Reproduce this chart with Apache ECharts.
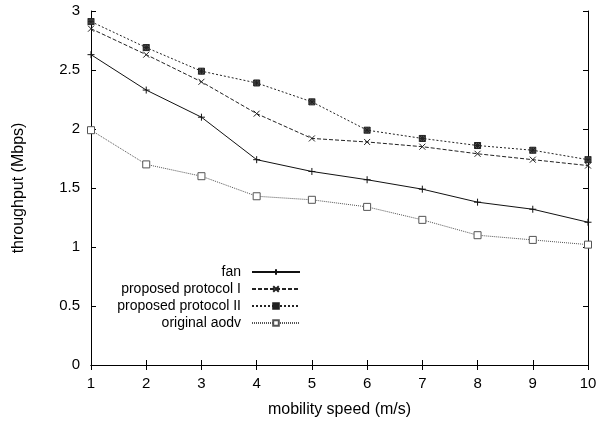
<!DOCTYPE html>
<html style="height: 100%">
<head>
  <meta charset="utf-8">
  <title>throughput vs mobility speed</title>
  <script src="https://cdn.jsdelivr.net/npm/echarts@6.0.0/dist/echarts.min.js"></script>
</head>
<body style="margin:0;height:100%;background:#fff">
  <div id="main" style="width:605px;height:423px"></div>
  <script>
    var speeds = [1, 2, 3, 4, 5, 6, 7, 8, 9, 10];
    var fan = [2.63, 2.33, 2.10, 1.74, 1.64, 1.57, 1.49, 1.38, 1.32, 1.21];
    var protoI = [2.85, 2.63, 2.40, 2.13, 1.92, 1.89, 1.85, 1.79, 1.74, 1.69];
    var protoII = [2.91, 2.69, 2.49, 2.39, 2.23, 1.99, 1.92, 1.86, 1.82, 1.74];
    var aodv = [1.99, 1.70, 1.60, 1.43, 1.40, 1.34, 1.23, 1.10, 1.06, 1.02];
    var names = ['fan', 'proposed protocol I', 'proposed protocol II', 'original aodv'];

    var font = 'Liberation Sans';
    var chart = echarts.init(document.getElementById('main'));

    function pts(vals) {
      return speeds.map(function (s, i) { return [s, vals[i]]; });
    }

    var plusPath = 'path://M0,5L10,5M5,0L5,10';
    var crossPath = 'path://M0,0L10,10M0,10L10,0';
    var starPath = 'path://M0,0L10,0L10,10L0,10ZM0,0L10,10M0,10L10,0M5,0L5,10M0,5L10,5';

    var styles = [
      { data: fan, symbol: plusPath, size: 7, type: 'solid', color: '#111', fill: 'none' },
      { data: protoI, symbol: crossPath, size: 6, type: [4, 2], color: '#222', fill: 'none' },
      { data: protoII, symbol: starPath, size: 6, type: [2, 2], color: '#222', fill: '#555' },
      { data: aodv, symbol: 'rect', size: 7, type: [1, 1], color: '#555', fill: '#fff' }
    ];

    var series = styles.map(function (s, i) {
      return {
        name: names[i],
        type: 'line',
        data: pts(s.data),
        symbol: s.symbol,
        symbolSize: s.size,
        showAllSymbol: true,
        lineStyle: { color: s.color, width: 1, type: s.type },
        itemStyle: { color: s.fill, borderColor: s.color, borderWidth: 1 },
        emphasis: { disabled: true },
        animation: false
      };
    });

    var legends = names.map(function (n, i) {
      return {
        data: [n],
        right: 304,
        top: 265 + i * 17,
        align: 'right',
        itemWidth: 48,
        itemHeight: 7,
        itemGap: 0,
        padding: 0,
        textStyle: { fontFamily: font, fontSize: 14, color: '#000', padding: [0, 6, 0, 0] }
      };
    });

    var tick = { inside: true, length: 5, lineStyle: { color: '#000' } };
    var line = { show: true, lineStyle: { color: '#000', width: 1 } };
    var labelStyle = { fontFamily: font, fontSize: 15, color: '#000' };
    var nameStyle = { fontFamily: font, fontSize: 16, color: '#000' };

    chart.setOption({
      backgroundColor: '#fff',
      grid: { left: 91, right: 17, top: 11, bottom: 56 },
      legend: legends,
      xAxis: [{
        type: 'value', min: 1, max: 10, interval: 1,
        name: 'mobility speed (m/s)', nameLocation: 'middle', nameGap: 37,
        nameTextStyle: nameStyle,
        axisLine: line, axisTick: tick,
        axisLabel: Object.assign({ margin: 11 }, labelStyle),
        splitLine: { show: false }
      }, {
        type: 'value', min: 1, max: 10, interval: 1, position: 'top',
        axisLine: line, axisTick: tick, axisLabel: { show: false }, splitLine: { show: false }
      }],
      yAxis: [{
        type: 'value', min: 0, max: 3, interval: 0.5,
        name: 'throughput (Mbps)', nameLocation: 'middle', nameGap: 64,
        nameTextStyle: nameStyle,
        axisLine: line, axisTick: tick,
        axisLabel: Object.assign({ margin: 11 }, labelStyle),
        splitLine: { show: false }
      }, {
        type: 'value', min: 0, max: 3, interval: 0.5, position: 'right',
        axisLine: line, axisTick: tick, axisLabel: { show: false }, splitLine: { show: false }
      }],
      series: series
    });
  </script>
</body>
</html>
